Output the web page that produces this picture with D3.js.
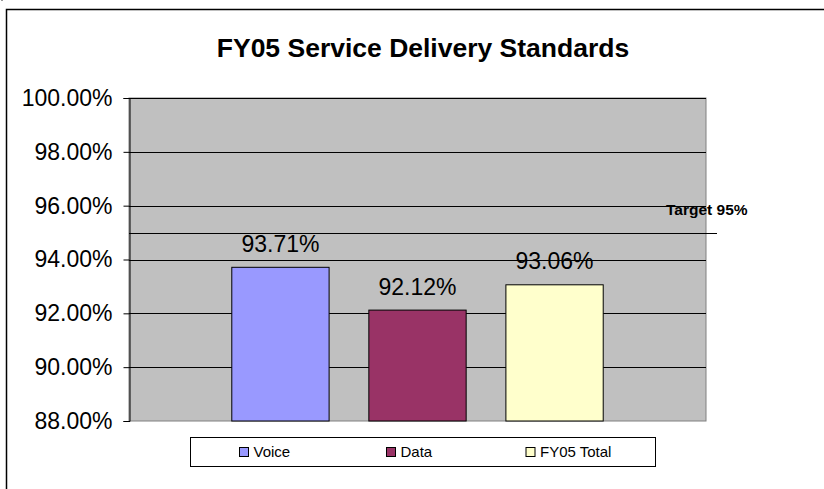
<!DOCTYPE html>
<html>
<head>
<meta charset="utf-8">
<script src="https://cdn.jsdelivr.net/npm/d3@7"></script>
<style>
  html, body { margin: 0; padding: 0; background: #fff; }
  svg { display: block; font-family: Arial, "Liberation Sans", sans-serif; }
</style>
</head>
<body>
<svg id="chart" width="824" height="489"></svg>
<script>
const title = "FY05 Service Delivery Standards";
const series = ["Voice", "Data", "FY05 Total"];
const values = [0.9371, 0.9212, 0.9306];
const colors = ["#9999FF", "#993366", "#FFFFCC"];
const yTicks = [0.88, 0.90, 0.92, 0.94, 0.96, 0.98, 1.00];
const target = 0.95;
const targetLabel = "Target 95%";

const svg = d3.select("#chart");
const plot = { left: 129, top: 98, right: 706, bottom: 421 };

// outer chart border (extends past the window)
svg.append("rect").attr("x", 1).attr("y", 0).attr("width", 2).attr("height", 1).attr("fill", "#999");
svg.append("rect").attr("x", 6.5).attr("y", 9.5).attr("width", 900).attr("height", 600)
  .attr("fill", "none").attr("stroke", "#000").attr("stroke-width", 1.5);

const y = d3.scaleLinear().domain([0.88, 1.0]).range([plot.bottom, plot.top]);
const x = d3.scaleBand().domain(series).range([plot.left, plot.right])
  .paddingInner(0.29).paddingOuter(0.75);

// plot area
svg.append("rect").attr("x", plot.left).attr("y", plot.top)
  .attr("width", plot.right - plot.left).attr("height", plot.bottom - plot.top)
  .attr("fill", "#C0C0C0").attr("stroke", "#808080").attr("stroke-width", 1);

// gridlines
svg.append("g").selectAll("line").data(yTicks.slice(1)).join("line")
  .attr("x1", plot.left).attr("x2", plot.right)
  .attr("y1", d => Math.round(y(d)) + 0.5).attr("y2", d => Math.round(y(d)) + 0.5)
  .attr("stroke", "#000").attr("stroke-width", 1);

// bars
svg.append("g").selectAll("rect").data(series).join("rect")
  .attr("x", d => x(d)).attr("width", x.bandwidth())
  .attr("y", (d, i) => y(values[i])).attr("height", (d, i) => y(0.88) - y(values[i]))
  .attr("fill", (d, i) => colors[i]).attr("stroke", "#000").attr("stroke-width", 1);

// value labels
svg.append("g").selectAll("text").data(series).join("text")
  .attr("x", d => x(d) + x.bandwidth() / 2)
  .attr("y", (d, i) => y(values[i]) - 15.5)
  .attr("text-anchor", "middle").attr("font-size", 23).attr("fill", "#000")
  .text((d, i) => d3.format(".2%")(values[i]));

// target line & label
svg.append("line").attr("x1", plot.left).attr("x2", 717)
  .attr("y1", Math.round(y(target)) + 0.5).attr("y2", Math.round(y(target)) + 0.5)
  .attr("stroke", "#000").attr("stroke-width", 1);
svg.append("text").attr("x", 666).attr("y", 214.5)
  .attr("font-size", 15.5).attr("font-weight", "bold").attr("fill", "#000")
  .text(targetLabel);

// y axis
const axis = d3.axisLeft(y).tickValues(yTicks).tickFormat(d3.format(".2%"))
  .tickSize(6).tickPadding(11);
const gAxis = svg.append("g").attr("transform", `translate(${plot.left + 0.5},0)`).call(axis);
gAxis.select(".domain").attr("stroke", "#000");
gAxis.selectAll(".tick line").attr("stroke", "#000");
gAxis.selectAll(".tick text").attr("font-size", 23).attr("fill", "#000")
  .attr("font-family", "Arial, 'Liberation Sans', sans-serif");

// title
svg.append("text").attr("x", 423).attr("y", 56.5).attr("text-anchor", "middle")
  .attr("font-size", 26.5).attr("font-weight", "bold").attr("fill", "#000")
  .text(title);

// legend
const legend = svg.append("g");
legend.append("rect").attr("x", 190.5).attr("y", 437.5).attr("width", 465).attr("height", 29)
  .attr("fill", "#fff").attr("stroke", "#000").attr("stroke-width", 1);
const legendX = [239.5, 386.5, 526];
const items = legend.selectAll("g").data(series).join("g")
  .attr("transform", (d, i) => `translate(${legendX[i]},0)`);
items.append("rect").attr("x", 0).attr("y", 447.5).attr("width", 9).attr("height", 9)
  .attr("fill", (d, i) => colors[i]).attr("stroke", "#000").attr("stroke-width", 1);
items.append("text").attr("x", 14).attr("y", 456.5).attr("font-size", 15).attr("fill", "#000")
  .text(d => d);
</script>
</body>
</html>
